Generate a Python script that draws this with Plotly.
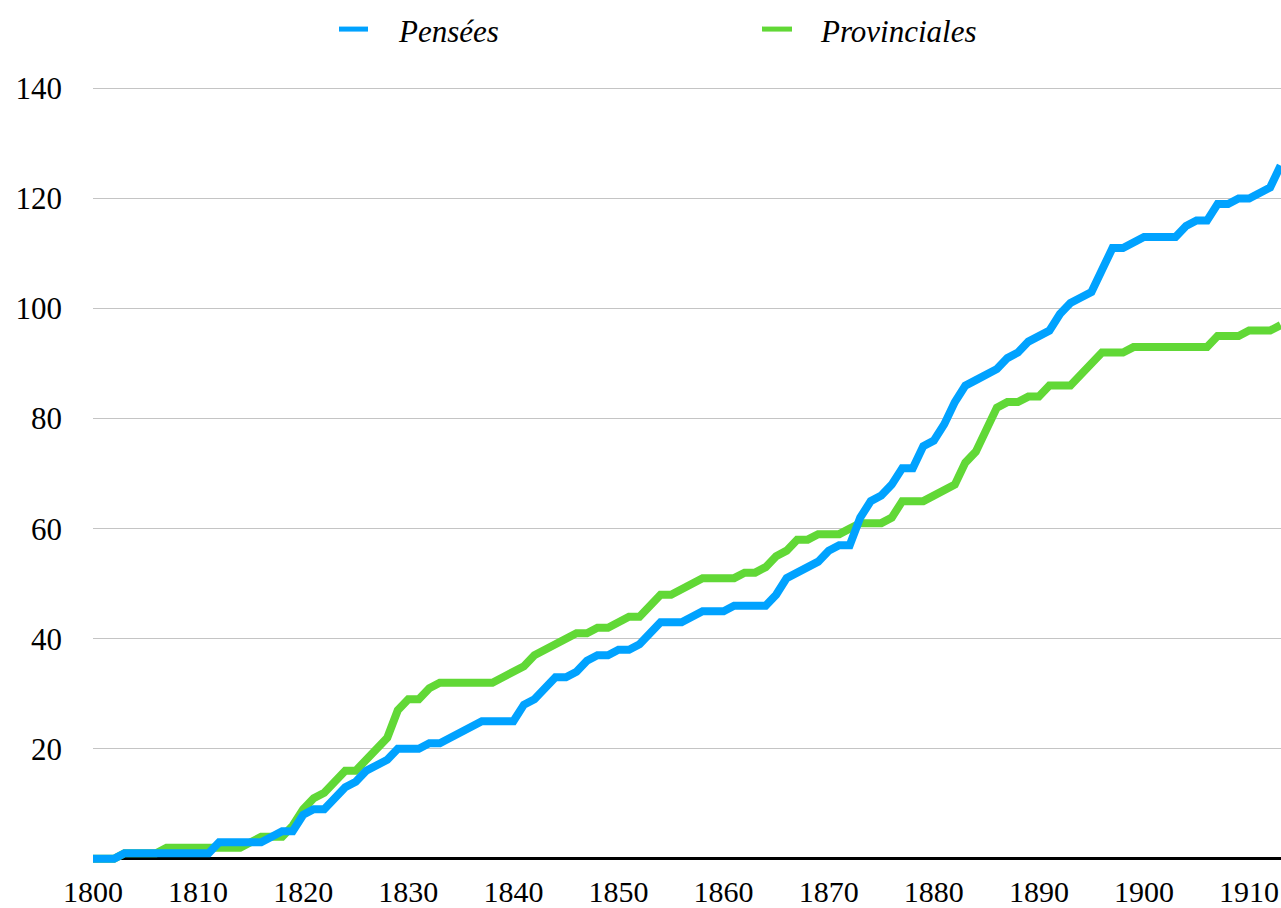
import plotly.graph_objects as go

years = list(range(1800, 1914))

series_names = ["Pensées", "Provinciales"]

pensees = [
    0, 0, 0, 1, 1, 1, 1, 1, 1, 1,
    1, 1, 3, 3, 3, 3, 3, 4, 5, 5,
    8, 9, 9, 11, 13, 14, 16, 17, 18, 20,
    20, 20, 21, 21, 22, 23, 24, 25, 25, 25,
    25, 28, 29, 31, 33, 33, 34, 36, 37, 37,
    38, 38, 39, 41, 43, 43, 43, 44, 45, 45,
    45, 46, 46, 46, 46, 48, 51, 52, 53, 54,
    56, 57, 57, 62, 65, 66, 68, 71, 71, 75,
    76, 79, 83, 86, 87, 88, 89, 91, 92, 94,
    95, 96, 99, 101, 102, 103, 107, 111, 111, 112,
    113, 113, 113, 113, 115, 116, 116, 119, 119, 120,
    120, 121, 122, 126,
]

provinciales = [
    0, 0, 0, 1, 1, 1, 1, 2, 2, 2,
    2, 2, 2, 2, 2, 3, 4, 4, 4, 6,
    9, 11, 12, 14, 16, 16, 18, 20, 22, 27,
    29, 29, 31, 32, 32, 32, 32, 32, 32, 33,
    34, 35, 37, 38, 39, 40, 41, 41, 42, 42,
    43, 44, 44, 46, 48, 48, 49, 50, 51, 51,
    51, 51, 52, 52, 53, 55, 56, 58, 58, 59,
    59, 59, 60, 61, 61, 61, 62, 65, 65, 65,
    66, 67, 68, 72, 74, 78, 82, 83, 83, 84,
    84, 86, 86, 86, 88, 90, 92, 92, 92, 93,
    93, 93, 93, 93, 93, 93, 93, 95, 95, 95,
    96, 96, 96, 97,
]

x_ticks = [1800, 1810, 1820, 1830, 1840, 1850, 1860, 1870, 1880, 1890, 1900, 1910]
y_ticks = [20, 40, 60, 80, 100, 120, 140]

BLUE = "#00A2FF"
GREEN = "#61D836"
FONT = "Liberation Serif"

fig = go.Figure()
fig.add_trace(go.Scatter(x=years, y=provinciales, mode="lines", name=series_names[1],
                         line=dict(color=GREEN, width=8), showlegend=False))
fig.add_trace(go.Scatter(x=years, y=pensees, mode="lines", name=series_names[0],
                         line=dict(color=BLUE, width=8), showlegend=False))

W, H = 1281, 908
ML, MR, MT, MB = 93, 0, 61, 39
pw, ph = W - ML - MR, H - MT - MB


def px_to_paper_x(px):
    return (px - ML) / pw


def px_to_paper_y(py):
    return (H - MB - py) / ph


# custom legend
legend_items = [(series_names[0], BLUE, 339, 368, 396), (series_names[1], GREEN, 762, 792, 818)]
for name, col, x0, x1, xt in legend_items:
    fig.add_shape(type="line", xref="paper", yref="paper",
                  x0=px_to_paper_x(x0), x1=px_to_paper_x(x1),
                  y0=px_to_paper_y(29), y1=px_to_paper_y(29),
                  line=dict(color=col, width=5))
    fig.add_annotation(xref="paper", yref="paper", x=px_to_paper_x(xt), y=px_to_paper_y(31),
                       text="<i>" + name + "</i>", showarrow=False, xanchor="left", yanchor="middle",
                       font=dict(family=FONT, size=31, color="#000000"))

fig.update_layout(
    width=W, height=H,
    margin=dict(l=ML, r=MR, t=MT, b=MB, pad=0),
    plot_bgcolor="white", paper_bgcolor="white",
    showlegend=False,
    font=dict(family=FONT, size=30, color="#000000"),
    xaxis=dict(range=[1800, 1800 + pw / 10.51], tickvals=x_ticks, ticktext=[str(v) for v in x_ticks],
               showgrid=False, zeroline=False, showline=False, ticks="",
               ticklabelstandoff=4, tickfont=dict(family=FONT, size=30, color="#000000")),
    yaxis=dict(range=[-1.5, 145], tickvals=y_ticks, ticktext=[str(v) for v in y_ticks],
               showgrid=True, gridcolor="#C4C4C4", gridwidth=1.3,
               zeroline=True, zerolinecolor="#000000", zerolinewidth=3,
               showline=False, ticks="", ticklabelstandoff=30,
               tickfont=dict(family=FONT, size=31, color="#000000")),
)

fig.write_html("out.html", config={"displayModeBar": False},
               post_script="document.body.style.margin='0';document.body.style.overflow='hidden';")
